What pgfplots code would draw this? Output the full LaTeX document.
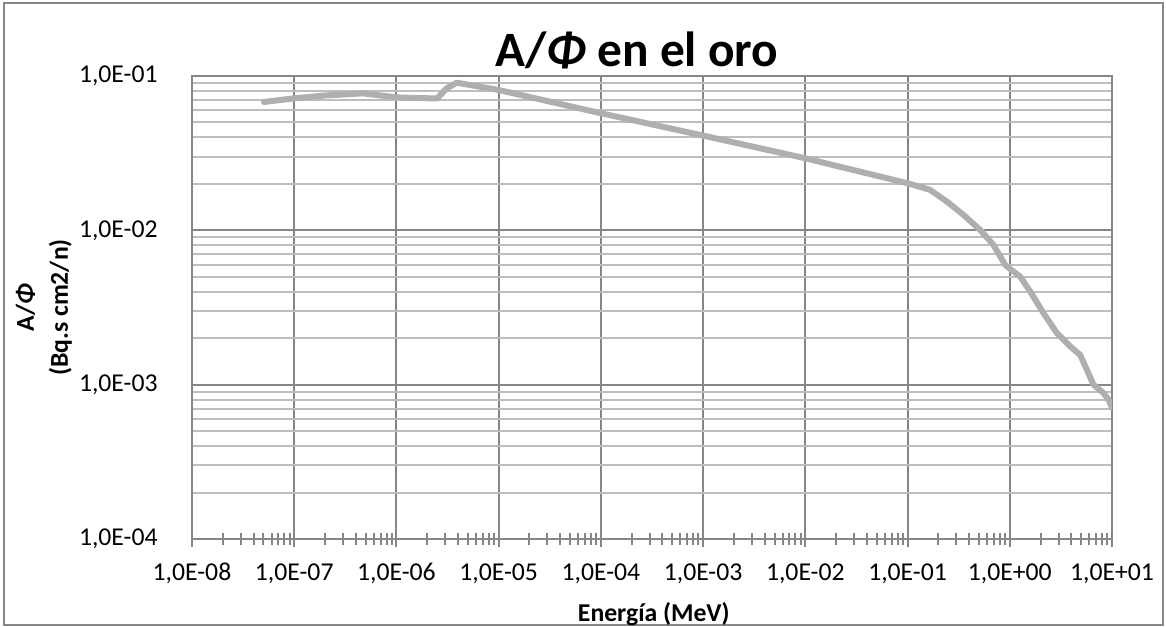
\documentclass[border=0pt]{standalone}
\usepackage{pgfplots}
\pgfplotsset{compat=1.18}
\usepackage{fontspec}
\setmainfont{Carlito}
\definecolor{majgrid}{RGB}{134,134,134}
\definecolor{mingrid}{RGB}{190,190,190}
\definecolor{curvegray}{RGB}{175,175,175}
\definecolor{framegray}{RGB}{134,134,134}
\begin{document}
\begin{tikzpicture}
\useasboundingbox (0,0) rectangle (583bp,313.5bp);
\draw[framegray, line width=0.8bp] (2bp,1bp) rectangle (581.5bp,312bp);
\begin{axis}[
  at={(96bp,44bp)}, anchor=south west,
  scale only axis, width=460bp, height=231.5bp,
  xmode=log, ymode=log,
  xmin=1e-8, xmax=10, ymin=1e-4, ymax=1e-1,
  xtick={1e-8,1e-7,1e-6,1e-5,1e-4,1e-3,1e-2,1e-1,1,10},
  xticklabels={{1,0E-08},{1,0E-07},{1,0E-06},{1,0E-05},{1,0E-04},{1,0E-03},{1,0E-02},{1,0E-01},{1,0E+00},{1,0E+01}},
  minor xtick={2e-8,3e-8,4e-8,5e-8,6e-8,7e-8,8e-8,9e-8,
    2e-7,3e-7,4e-7,5e-7,6e-7,7e-7,8e-7,9e-7,
    2e-6,3e-6,4e-6,5e-6,6e-6,7e-6,8e-6,9e-6,
    2e-5,3e-5,4e-5,5e-5,6e-5,7e-5,8e-5,9e-5,
    2e-4,3e-4,4e-4,5e-4,6e-4,7e-4,8e-4,9e-4,
    2e-3,3e-3,4e-3,5e-3,6e-3,7e-3,8e-3,9e-3,
    2e-2,3e-2,4e-2,5e-2,6e-2,7e-2,8e-2,9e-2,
    0.2,0.3,0.4,0.5,0.6,0.7,0.8,0.9,
    2,3,4,5,6,7,8,9},
  ytick={1e-4,1e-3,1e-2,1e-1},
  yticklabels={{1,0E-04},{1,0E-03},{1,0E-02},{1,0E-01}},
  minor ytick={2e-4,3e-4,4e-4,5e-4,6e-4,7e-4,8e-4,9e-4,
    2e-3,3e-3,4e-3,5e-3,6e-3,7e-3,8e-3,9e-3,
    2e-2,3e-2,4e-2,5e-2,6e-2,7e-2,8e-2,9e-2},
  xtick pos=bottom, ytick pos=left,
  tick align=center,
  major tick length=8bp, minor tick length=6bp,
  xmajorgrids, ymajorgrids, yminorgrids,
  major grid style={majgrid, line width=1bp},
  minor grid style={mingrid, line width=1bp},
  axis line style={majgrid, line width=1bp},
  x tick style={majgrid, line width=1bp},
  y tick style={draw=none},
  ticklabel style={font=\fontsize{12.85bp}{15bp}\selectfont, inner sep=0pt},
  xticklabel style={anchor=base, yshift=-16.5bp},
  yticklabel style={anchor=east, xshift=-13bp},
  every axis title shift=0pt,
  title={A/\textit{Φ} en el oro},
  title style={font=\bfseries\fontsize{24.7bp}{28bp}\selectfont, at={(axis description cs:0.4837,1.0216)}, anchor=base, inner sep=0pt},
  xlabel={Energía (MeV)},
  xlabel style={font=\bfseries\fontsize{12.85bp}{15bp}\selectfont, at={(axis description cs:0.502,-0.178)}, anchor=base, inner sep=0pt},
  ylabel={A/\textit{Φ}\\(Bq.s cm2/n)},
  ylabel style={font=\bfseries\fontsize{12.85bp}{17bp}\selectfont, align=center, at={(axis description cs:-0.161,0.5)}, anchor=center, inner sep=0pt},
]
\addplot[curvegray, line width=3bp, line join=round, line cap=round] coordinates {
(5.07e-8,0.0679) (1e-7,0.0717) (2e-7,0.0748) (4.7e-7,0.0772) (1e-6,0.0727)
(2.5e-6,0.0715) (3.1e-6,0.0832) (3.9e-6,0.0905) (1e-5,0.0812) (1e-4,0.0574)
(1e-3,0.0411) (1e-2,0.0293) (0.1,0.0202) (0.166,0.0183) (0.2425,0.01536)
(0.3527,0.01259) (0.513,0.01007) (0.692,0.00805) (0.901,0.00598) (1.01,0.00561)
(1.264,0.00502) (1.583,0.00402) (2.138,0.00291) (2.89,0.00216) (3.90,0.00177)
(4.88,0.00156) (5.68,0.00125) (6.59,0.00100) (8.26,0.000883) (9.25,0.000799)
(10,0.00071)
};
\end{axis}
\end{tikzpicture}
\end{document}
